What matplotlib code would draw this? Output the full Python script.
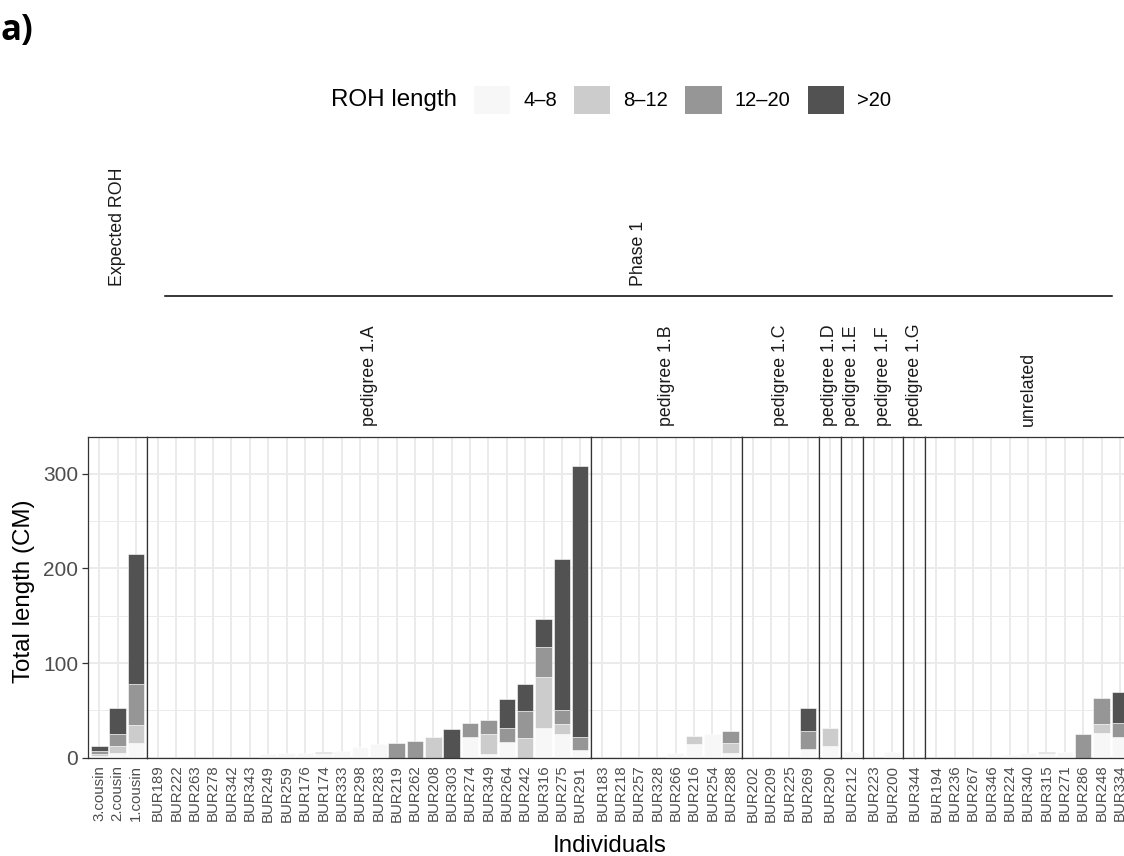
import matplotlib
matplotlib.use("Agg")
import matplotlib.pyplot as plt
from matplotlib.patches import Patch
from matplotlib.lines import Line2D
import numpy as np

plt.rcParams['font.family'] = ['Liberation Sans', 'DejaVu Sans']

# individuals, in plotting order, and the facet each belongs to
individuals = ['3.cousin', '2.cousin', '1.cousin',
               'BUR189', 'BUR222', 'BUR263', 'BUR278', 'BUR342', 'BUR343', 'BUR249', 'BUR259',
               'BUR176', 'BUR174', 'BUR333', 'BUR298', 'BUR283', 'BUR219', 'BUR262', 'BUR208',
               'BUR303', 'BUR274', 'BUR349', 'BUR264', 'BUR242', 'BUR316', 'BUR275', 'BUR291',
               'BUR183', 'BUR218', 'BUR257', 'BUR328', 'BUR266', 'BUR216', 'BUR254', 'BUR288',
               'BUR202', 'BUR209', 'BUR225', 'BUR269',
               'BUR290',
               'BUR212',
               'BUR223', 'BUR200',
               'BUR344',
               'BUR194', 'BUR236', 'BUR267', 'BUR346', 'BUR224', 'BUR340', 'BUR315', 'BUR271',
               'BUR286', 'BUR248', 'BUR334']
panel_of = (['Expected ROH'] * 3 + ['pedigree 1.A'] * 24 + ['pedigree 1.B'] * 8
            + ['pedigree 1.C'] * 4 + ['pedigree 1.D'] + ['pedigree 1.E']
            + ['pedigree 1.F'] * 2 + ['pedigree 1.G'] + ['unrelated'] * 11)
panels = ['Expected ROH', 'pedigree 1.A', 'pedigree 1.B', 'pedigree 1.C', 'pedigree 1.D',
          'pedigree 1.E', 'pedigree 1.F', 'pedigree 1.G', 'unrelated']

# total ROH length (cM) per length class
roh_4_8 = [1.5, 5.3, 15.8,
           0, 0, 0, 0, 0, 0, 3.5, 4.5, 4.5, 4.8, 7.0, 11.0, 14.0, 0, 0, 0, 0, 21.8, 3.9, 16.2, 0,
           31.3, 25.0, 8.1,
           0, 0, 0, 0, 4.5, 14.5, 25.0, 4.9,
           0, 0, 0, 9.2,
           12.3,
           6.5,
           0, 5.5,
           0,
           0, 0, 0, 0, 3.0, 4.5, 4.8, 5.5, 0, 26.1, 21.8]
roh_8_12 = [2.5, 7.0, 18.7,
            0, 0, 0, 0, 0, 0, 0, 0, 0, 0, 0, 0, 0, 0, 0, 21.8, 0, 0, 21.1, 0, 20.8,
            53.9, 10.6, 0,
            0, 0, 0, 0, 0, 8.4, 0, 10.6,
            0, 0, 0, 0,
            19.0,
            0,
            0, 0,
            0,
            0, 0, 0, 0, 0, 0, 0, 0, 0, 9.5, 0]
roh_12_20 = [2.8, 12.7, 43.3,
             0, 0, 0, 0, 0, 0, 0, 0, 0, 0.8, 0, 0, 0, 15.5, 17.6, 0, 0, 14.8, 14.8, 15.1, 28.5,
             31.6, 14.7, 13.7,
             0, 0, 0, 0, 0, 0, 0, 12.7,
             0, 0, 0, 19.0,
             0,
             0,
             0, 0,
             0,
             0, 0, 0, 0, 0, 0, 0.8, 0, 25.0, 27.3, 14.8]
roh_gt20 = [5.3, 27.8, 137.1,
            0, 0, 0, 0, 0, 0, 0, 0, 0, 0, 0, 0, 0, 0, 0, 0, 30.3, 0, 0, 30.6, 28.4,
            29.5, 159.3, 286.0,
            0, 0, 0, 0, 0, 0, 0, 0,
            0, 0, 0, 24.2,
            0,
            0,
            0, 0,
            0,
            0, 0, 0, 0, 0, 0, 0, 0, 0, 0, 32.7]

classes = ['4\u20138', '8\u201312', '12\u201320', '>20']
colors = ['#F7F7F7', '#CCCCCC', '#969696', '#525252']
series = [roh_4_8, roh_8_12, roh_12_20, roh_gt20]

W, H = 1124, 856
fig = plt.figure(figsize=(W / 100, H / 100), dpi=100)

counts = [panel_of.count(p) for p in panels]
gs = fig.add_gridspec(1, len(panels), width_ratios=[c + 0.2 for c in counts], wspace=0,
                      left=88.3 / W, right=1130.9 / W, bottom=1 - 757.7 / H, top=1 - 437.3 / H)

ymax = max(np.sum(series, axis=0)) * 1.1
axes = []
for k, p in enumerate(panels):
    ax = fig.add_subplot(gs[0, k])
    sel = [i for i, g in enumerate(panel_of) if g == p]
    names = [individuals[i] for i in sel]
    x = np.arange(len(sel))
    bottom = np.zeros(len(sel))
    for vals, col in zip(series, colors):
        v = np.array(vals, dtype=float)[sel]
        m = v > 0
        ax.bar(x[m], v[m], 0.9, bottom=bottom[m], color=col, edgecolor='white',
               linewidth=0.4, zorder=2)
        bottom += v

    ax.set_xlim(-0.6, len(sel) - 0.4)
    ax.set_ylim(0, ymax)
    ax.set_xticks(x)
    ax.set_xticklabels(names, rotation=90, fontsize=10.8, color='#4D4D4D')
    ax.tick_params(axis='x', length=0, pad=5)
    ax.set_yticks([0, 100, 200, 300])
    ax.set_yticks([50, 150, 250], minor=True)
    ax.set_axisbelow(True)
    ax.grid(which='major', color='#EBEBEB', linewidth=1.4)
    ax.grid(which='minor', axis='y', color='#EBEBEB', linewidth=0.7)
    ax.tick_params(axis='y', which='minor', length=0)
    for s in ax.spines.values():
        s.set_color('#333333')
        s.set_linewidth(0.9)
    if k == 0:
        ax.tick_params(axis='y', length=4.3, width=0.9, color='#333333', labelsize=15,
                       labelcolor='#4D4D4D', pad=3)
    else:
        ax.tick_params(axis='y', which='both', left=False, labelleft=False)
    axes.append(ax)

    pos = ax.get_position()
    cx = (pos.x0 + pos.x1) / 2
    if p == 'Expected ROH':
        fig.text(cx, 1 - 285.7 / H, p, rotation=90, ha='center', va='bottom',
                 fontsize=12.8, color='#1A1A1A')
    else:
        fig.text(cx, 1 - 426 / H, p, rotation=90, ha='center', va='bottom',
                 fontsize=12.8, color='#1A1A1A')

# nested "Phase 1" strip
x0 = axes[1].get_position().x0
x1 = axes[-1].get_position().x1
fig.text((x0 + x1) / 2, 1 - 285.7 / H, 'Phase 1', rotation=90, ha='center', va='bottom',
         fontsize=12.8, color='#1A1A1A')
fig.add_artist(Line2D([x0 + 18 / W, x1 - 19 / W], [1 - 296 / H] * 2, color='black', lw=1.1))

# axis titles
fig.text(24 / W, 1 - 591 / H, 'Total length (CM)', rotation=90, ha='center', va='center',
         fontsize=17.4)
fig.text((88.3 + 1130.9) / 2 / W, 1 - 852 / H, 'Individuals', ha='center', va='baseline',
         fontsize=17.4)

# legend on top
handles = [Patch(facecolor=c, edgecolor='none') for c in colors]
fig.legend(handles, classes, ncol=4, loc='center left', bbox_to_anchor=(474 / W, 1 - 100 / H),
           frameon=False, fontsize=14.5, handlelength=1.8, handleheight=1.8,
           handletextpad=0.65, columnspacing=0.85, borderpad=0, borderaxespad=0)
fig.text(331 / W, 1 - 100 / H, 'ROH length', ha='left', va='center', fontsize=17.4)

fig.text(1 / W, 1 - 31 / H, 'a)', ha='left', va='center', fontsize=25, fontweight='bold',
         family=['Open Sans', 'DejaVu Sans'])

fig.savefig('out.png', dpi=100)
